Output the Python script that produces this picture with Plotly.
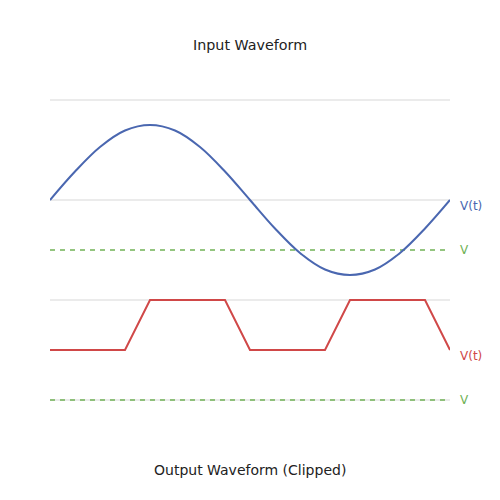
import plotly.graph_objects as go

# Datos de la onda de entrada (unidades arbitrarias)
t_entrada = [0, 25, 50, 75, 100, 125, 150, 175, 200, 225, 250, 275, 300, 325, 350, 375, 400]
v_entrada = [0, 0.57, 1.06, 1.39, 1.5, 1.39, 1.06, 0.57, 0, -0.57, -1.06, -1.39, -1.5, -1.39, -1.06, -0.57, 0]

# Onda de salida recortada
t_salida = [0, 75, 100, 175, 200, 275, 300, 375, 400]
v_salida = [-3, -3, -2, -2, -3, -3, -2, -2, -3]

# Niveles de referencia (líneas verdes)
t_ref = [0, 400]
v_ref_entrada = [-1, -1]
v_ref_salida = [-4, -4]

AZUL = '#4a67b0'
ROJO = '#d04848'
VERDE = '#70b256'

fig = go.Figure()

fig.add_trace(go.Scatter(x=t_ref, y=v_ref_entrada, mode='lines',
                         line=dict(color=VERDE, width=1.5, dash='5px,5px')))
fig.add_trace(go.Scatter(x=t_ref, y=v_ref_salida, mode='lines',
                         line=dict(color=VERDE, width=1.5, dash='5px,5px')))
fig.add_trace(go.Scatter(x=t_entrada, y=v_entrada, mode='lines',
                         line=dict(color=AZUL, width=2, shape='spline')))
fig.add_trace(go.Scatter(x=t_salida, y=v_salida, mode='lines',
                         line=dict(color=ROJO, width=2)))

# Etiquetas a la derecha
etiquetas = [('V(t)', -0.12, AZUL), ('V', -1, VERDE), ('V(t)', -3.12, ROJO), ('V', -4, VERDE)]
for texto, y, color in etiquetas:
    fig.add_annotation(text=texto, xref='paper', x=1.02, xanchor='left',
                       yref='y', y=y, yanchor='middle', showarrow=False,
                       font=dict(color=color, size=12))

fig.add_annotation(text='Input Waveform', xref='paper', x=0.5, yref='paper', y=1.0125,
                   yanchor='middle', showarrow=False, font=dict(size=14.3, color='#222'))
fig.add_annotation(text='Output Waveform (Clipped)', xref='paper', x=0.5, yref='paper', y=-0.05,
                   yanchor='middle', showarrow=False, font=dict(size=14, color='#222'))

# la página deja 8px de margen, se compensa en los márgenes
fig.update_layout(
    width=500, height=500,
    margin=dict(l=42, r=58, t=42, b=58),
    plot_bgcolor='white', paper_bgcolor='white',
    showlegend=False,
    font=dict(family='DejaVu Sans', size=12),
    xaxis=dict(range=[0, 400], showgrid=False, zeroline=False, showticklabels=False, ticks=''),
    yaxis=dict(range=[-5, 3], dtick=2, tick0=0, showgrid=True, gridcolor='#ebebeb', gridwidth=2,
               zeroline=False, showticklabels=False, ticks=''),
)

fig.write_html('out.html')
